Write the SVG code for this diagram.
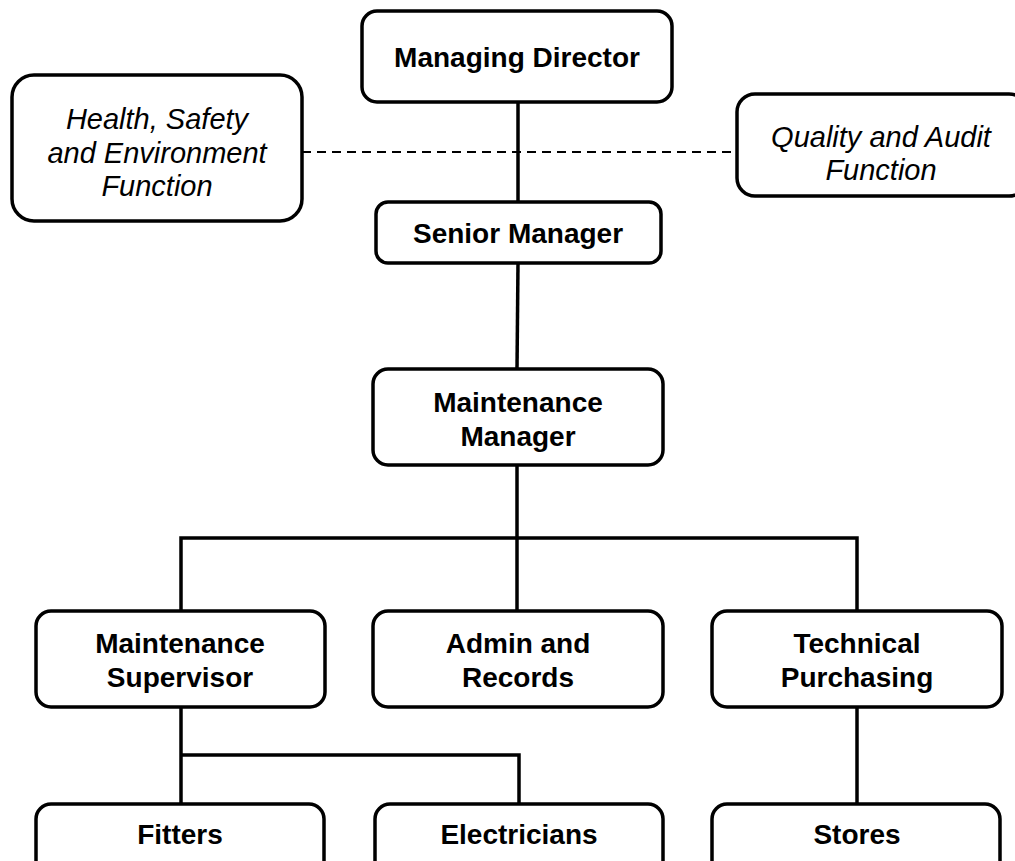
<svg xmlns="http://www.w3.org/2000/svg" width="1015" height="861" viewBox="0 0 1015 861">
<style>
.box{fill:#fff;stroke:#000;stroke-width:3.5}
.t{font-family:"Liberation Sans",Arial,sans-serif;font-size:28px;font-weight:bold;text-anchor:middle;fill:#000}
.i{font-family:"Liberation Sans",Arial,sans-serif;font-size:29px;font-style:italic;text-anchor:middle;fill:#000}
.c{fill:none;stroke:#000;stroke-width:3.5}
.d{fill:none;stroke:#000;stroke-width:2;stroke-dasharray:9 6}
</style>
<rect width="1015" height="861" fill="#fff"/>
<g id="connectors">
<line class="d" x1="302" y1="152" x2="737" y2="152"/>
<line class="c" x1="518" y1="102" x2="518" y2="202"/>
<line class="c" x1="518" y1="263" x2="517" y2="369"/>
<polyline class="c" points="517,465 517,611"/>
<polyline class="c" points="181,611 181,538 857,538 857,611"/>
<polyline class="c" points="181,707 181,804"/>
<polyline class="c" points="181,755 519,755 519,804"/>
<polyline class="c" points="857,707 857,804"/>
</g>
<g id="managing-director"><rect class="box" x="362" y="11" width="310" height="91" rx="15"/><text class="t" x="517" y="67">Managing Director</text></g>
<g id="hse"><rect class="box" x="12" y="75" width="290" height="146" rx="22"/><text class="i" x="157" y="129">Health, Safety</text><text class="i" x="157" y="163">and Environment</text><text class="i" x="157" y="196">Function</text></g>
<g id="quality"><rect class="box" x="737" y="94" width="290" height="102" rx="18"/><text class="i" x="881" y="147">Quality and Audit</text><text class="i" x="881" y="180">Function</text></g>
<g id="senior-manager"><rect class="box" x="376" y="202" width="285" height="61" rx="12"/><text class="t" x="518" y="243">Senior Manager</text></g>
<g id="maintenance-manager"><rect class="box" x="373" y="369" width="290" height="96" rx="15"/><text class="t" x="518" y="412">Maintenance</text><text class="t" x="518" y="446">Manager</text></g>
<g id="maintenance-supervisor"><rect class="box" x="36" y="611" width="289" height="96" rx="15"/><text class="t" x="180" y="653">Maintenance</text><text class="t" x="180" y="687">Supervisor</text></g>
<g id="admin-records"><rect class="box" x="373" y="611" width="290" height="96" rx="15"/><text class="t" x="518" y="653">Admin and</text><text class="t" x="518" y="687">Records</text></g>
<g id="technical-purchasing"><rect class="box" x="712" y="611" width="290" height="96" rx="15"/><text class="t" x="857" y="653">Technical</text><text class="t" x="857" y="687">Purchasing</text></g>
<g id="fitters"><rect class="box" x="36" y="804" width="288" height="80" rx="15"/><text class="t" x="180" y="844">Fitters</text></g>
<g id="electricians"><rect class="box" x="375" y="804" width="288" height="80" rx="15"/><text class="t" x="519" y="844">Electricians</text></g>
<g id="stores"><rect class="box" x="712" y="804" width="288" height="80" rx="15"/><text class="t" x="857" y="844">Stores</text></g>
</svg>
